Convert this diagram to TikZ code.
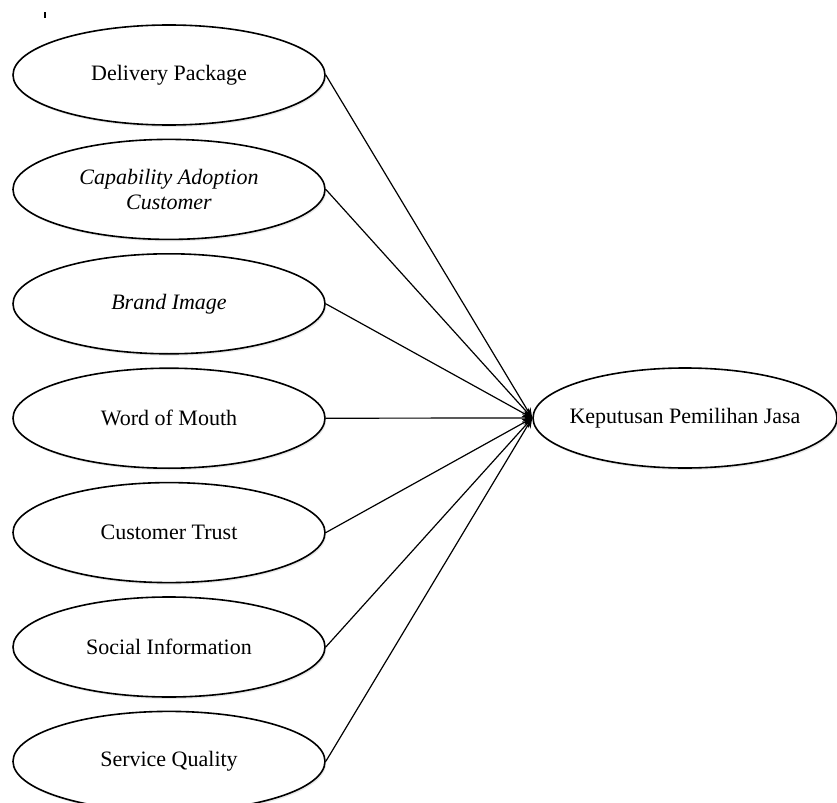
\documentclass[tikz,border=0pt]{standalone}
\usepackage{fontspec}
\setmainfont{Liberation Serif}
\usetikzlibrary{arrows.meta,positioning,shadows,shapes.geometric}

\begin{document}
\begin{tikzpicture}[
  x=0.5pt, y=-0.5pt,
  font=\fontsize{11}{12.5}\selectfont, >={Stealth[length=5pt,width=4pt]},
  var/.style={ellipse, draw=black, line width=0.8pt, fill=white, align=center,
              minimum width=156pt, minimum height=50pt, inner sep=0pt,
              drop shadow={opacity=0.18, shadow xshift=0.6pt, shadow yshift=-1pt}},
  a/.style={->, line width=0.6pt, draw=black},
]
\useasboundingbox (0,0) rectangle (837,803);

% independent variables (left column)
\node[var] (dp) at (169,75) {Delivery Package};
\node[var, below=6.4pt of dp] (cac) {\textit{Capability Adoption}\\\textit{Customer}};
\node[var, below=6.4pt of cac] (bi) {\textit{Brand Image}};
\node[var, below=6.4pt of bi] (wom) {Word of Mouth};
\node[var, below=6.4pt of wom] (ct) {Customer Trust};
\node[var, below=6.4pt of ct] (si) {Social Information};
\node[var, below=6.4pt of si] (sq) {Service Quality};

% dependent variable
\node[var, minimum width=152pt] (kpj) at (685,418) {\makebox[100pt]{Keputusan Pemilihan Jasa}};

\draw[line width=0.8pt] (45,12) -- (45,18);

\draw[a] (dp.east) -- (kpj.west);
\draw[a] (cac.east) -- (kpj.west);
\draw[a] (bi.east) -- (kpj.west);
\draw[a] (wom.east) -- (kpj.west);
\draw[a] (ct.east) -- (kpj.west);
\draw[a] (si.east) -- (kpj.west);
\draw[a] (sq.east) -- (kpj.west);
\end{tikzpicture}
\end{document}
